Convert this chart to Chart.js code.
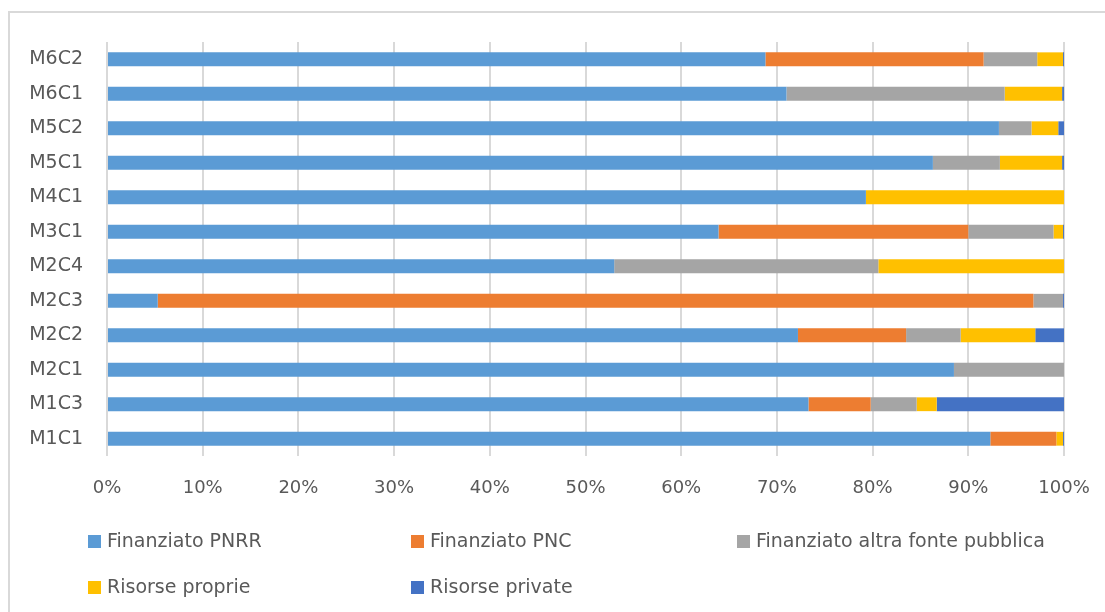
<!DOCTYPE html>
<html>
<head>
<meta charset="utf-8">
<script src="https://cdn.jsdelivr.net/npm/chart.js@4/dist/chart.umd.min.js"></script>
<style>
  html, body { margin: 0; padding: 0; background: #fff; overflow: hidden; }
  #wrap { width: 1105px; height: 612px; position: relative; }
</style>
</head>
<body>
<div id="wrap"><canvas id="fonti_finanziamento"></canvas></div>
<script>
/**********************************************
 *
 * Grafico fonti di finanziamento per componente
 *
 * ****************************************/

var componenti = ['M6C2', 'M6C1', 'M5C2', 'M5C1', 'M4C1', 'M3C1', 'M2C4', 'M2C3', 'M2C2', 'M2C1', 'M1C3', 'M1C1'];

var finanziatoPNRR   = [68.8, 71.0, 93.2, 86.3, 79.3, 63.9, 53.0, 5.3, 72.2, 88.5, 73.3, 92.3];
var finanziatoPNC    = [22.8, 0, 0, 0, 0, 26.1, 0, 91.5, 11.3, 0, 6.5, 6.9];
var altraFonte       = [5.6, 22.8, 3.4, 7.0, 0, 8.9, 27.6, 3.1, 5.7, 11.5, 4.8, 0];
var risorseProprie   = [2.7, 6.0, 2.8, 6.5, 20.7, 1.0, 19.4, 0, 7.8, 0, 2.1, 0.7];
var risorsePrivate   = [0.1, 0.2, 0.6, 0.2, 0, 0.1, 0, 0.1, 3.0, 0, 13.3, 0.1];

var tickPercentuali = [0, 10, 20, 30, 40, 50, 60, 70, 80, 90, 100];

var FONT = '"DejaVu Sans", "Liberation Sans", sans-serif';
var GRIGIO_TESTO = '#595959';

// cornice esterna del grafico (solo lato sinistro e superiore restano nel riquadro)
var cornice = {
    id: 'cornice',
    beforeDraw: function (chart) {
        var c = chart.ctx;
        c.save();
        c.strokeStyle = '#D9D9D9';
        c.lineWidth = 2;
        c.beginPath();
        c.moveTo(9, chart.height);
        c.lineTo(9, 12);
        c.lineTo(chart.width, 12);
        c.stroke();
        c.restore();
    }
};

// legenda disegnata a colonne fisse sotto l'asse
var legendaColonne = {
    id: 'legendaColonne',
    afterDraw: function (chart) {
        var c = chart.ctx;
        var colX = [88, 411, 737];
        var rigaY = [541, 587];
        c.save();
        c.font = '19px ' + FONT;
        c.textBaseline = 'middle';
        c.textAlign = 'left';
        chart.data.datasets.forEach(function (ds, i) {
            var x = colX[i % 3];
            var y = rigaY[Math.floor(i / 3)];
            c.fillStyle = ds.backgroundColor;
            c.fillRect(x, y - 6, 13, 13);
            c.fillStyle = GRIGIO_TESTO;
            c.fillText(ds.label, x + 19, y + 1);
        });
        c.restore();
    }
};

var ctx = document.getElementById('fonti_finanziamento').getContext('2d');

var chart = new Chart(ctx, {
    type: 'bar',
    data: {
        labels: componenti,
        datasets: [
            { label: 'Finanziato PNRR', data: finanziatoPNRR, backgroundColor: '#5B9BD5' },
            { label: 'Finanziato PNC', data: finanziatoPNC, backgroundColor: '#ED7D31' },
            { label: 'Finanziato altra fonte pubblica', data: altraFonte, backgroundColor: '#A5A5A5' },
            { label: 'Risorse proprie', data: risorseProprie, backgroundColor: '#FFC000' },
            { label: 'Risorse private', data: risorsePrivate, backgroundColor: '#4472C4' }
        ]
    },
    plugins: [cornice, legendaColonne],
    options: {
        indexAxis: 'y',
        responsive: true,
        maintainAspectRatio: false,
        animation: false,
        layout: {
            padding: { left: 0, top: 42, right: 41, bottom: 106 }
        },
        datasets: {
            bar: {
                barPercentage: 0.4,
                categoryPercentage: 1.0,
                borderWidth: 0
            }
        },
        plugins: {
            legend: { display: false },
            tooltip: { enabled: false }
        },
        scales: {
            x: {
                stacked: true,
                min: 0,
                max: 100,
                afterBuildTicks: function (scale) {
                    scale.ticks = tickPercentuali.map(function (v) { return { value: v }; });
                },
                afterFit: function (scale) {
                    scale.height = 50;
                    scale.paddingLeft = 0;
                    scale.paddingRight = 0;
                },
                border: { display: false },
                grid: {
                    color: '#D9D9D9',
                    lineWidth: 2,
                    drawTicks: false
                },
                ticks: {
                    padding: 22,
                    color: GRIGIO_TESTO,
                    font: { family: FONT, size: 18 },
                    callback: function (v) { return v + '%'; }
                }
            },
            y: {
                stacked: true,
                afterFit: function (scale) {
                    scale.width = 107;
                    scale.paddingTop = 0;
                    scale.paddingBottom = 0;
                },
                border: { display: false },
                grid: { display: false, drawTicks: false },
                ticks: {
                    padding: 24,
                    color: GRIGIO_TESTO,
                    font: { family: FONT, size: 19 }
                }
            }
        }
    }
});
</script>
</body>
</html>
